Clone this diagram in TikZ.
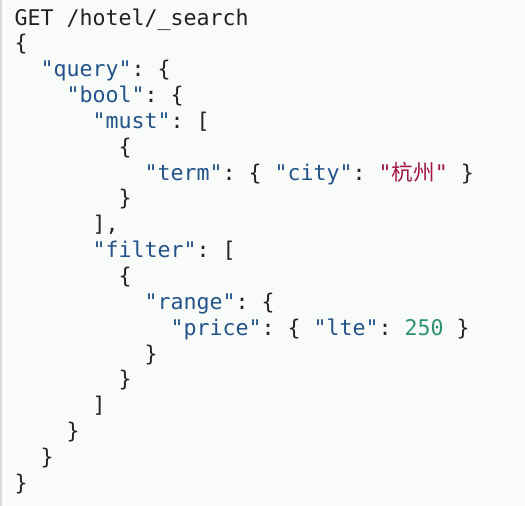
\documentclass[tikz,border=0pt]{standalone}
\usepackage{fontspec}
\setmonofont{DejaVu Sans Mono}
\newfontfamily\cjk{Noto Sans CJK SC}
\definecolor{bgc}{HTML}{F9FBF9}
\definecolor{edgec}{HTML}{D8DAD8}
\definecolor{txtc}{HTML}{222222}
\definecolor{keyc}{HTML}{23538A}
\definecolor{strc}{HTML}{A3154A}
\definecolor{numc}{HTML}{2F9370}
\newcommand{\ky}[1]{\textcolor{keyc}{"#1"}}
\begin{document}
\begin{tikzpicture}[x=1pt,y=1pt,
  codeline/.style={anchor=base west, inner sep=0pt, outer sep=0pt, text=txtc,
    font=\ttfamily\fontsize{21.6pt}{25.85pt}\selectfont}]
\useasboundingbox (0,0) rectangle (525,-506);
\fill[bgc] (0,0) rectangle (525,-506);
\fill[edgec] (0,0) rectangle (1.5,-506);
\def\cw{13}
\def\xo{14.5}
\def\lh{25.85}
\newcommand{\cl}[4]{\node[codeline] (#1) at ({\xo+#2*\cw},{-25-(#3-1)*\lh}) {#4};}
\cl{l1}{0}{1}{GET /hotel/\_search}
\cl{l2}{0}{2}{\{}
\cl{l3}{2}{3}{\ky{query}: \{}
\cl{l4}{4}{4}{\ky{bool}: \{}
\cl{l5}{6}{5}{\ky{must}: [}
\cl{l6}{8}{6}{\{}
\cl{l7}{10}{7}{\ky{term}: \{ \ky{city}: \textcolor{strc}{"{\cjk 杭州}"} \}}
\cl{l8}{8}{8}{\}}
\cl{l9}{6}{9}{],}
\cl{l10}{6}{10}{\ky{filter}: [}
\cl{l11}{8}{11}{\{}
\cl{l12}{10}{12}{\ky{range}: \{}
\cl{l13}{12}{13}{\ky{price}: \{ \ky{lte}: \textcolor{numc}{250} \}}
\cl{l14}{10}{14}{\}}
\cl{l15}{8}{15}{\}}
\cl{l16}{6}{16}{]}
\cl{l17}{4}{17}{\}}
\cl{l18}{2}{18}{\}}
\cl{l19}{0}{19}{\}}
\end{tikzpicture}
\end{document}
